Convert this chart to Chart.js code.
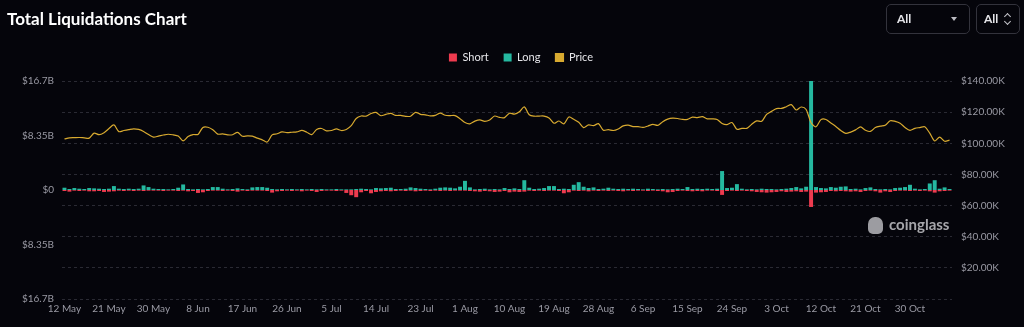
<!DOCTYPE html>
<html>
<head>
<meta charset="utf-8">
<title>Total Liquidations Chart</title>
<script src="https://cdn.jsdelivr.net/npm/chart.js@4.4.1/dist/chart.umd.min.js"></script>
<style>
    html, body { margin: 0; padding: 0; background: #05050b; width: 1024px; height: 327px; overflow: hidden; font-family: Lato, "Liberation Sans", sans-serif; }
    #wrap { position: relative; width: 1024px; height: 327px; }
    #chart { position: absolute; left: 0; top: 0; }
    .title { position: absolute; left: 7px; top: 8px; color: #ffffff; font-weight: bold; font-size: 17px; }
    .sel { position: absolute; top: 4px; height: 30px; border: 1px solid #33333c; border-radius: 5px; box-sizing: border-box; color: #e4e4e8; font-size: 12px; font-weight: bold; line-height: 28px; }
    .sel1 { left: 886px; width: 84px; padding-left: 10px; }
    .sel1 .caret { position: absolute; right: 12px; top: 12px; width: 0; height: 0; border-left: 3px solid transparent; border-right: 3px solid transparent; border-top: 4px solid #bbbbc2; }
    .sel2 { left: 976px; width: 44px; padding-left: 7px; }
    .sel2 .arr { position: absolute; right: 8px; top: 8px; width: 6px; height: 12px; }
    .sel2 .arr i { position: absolute; left: 0; width: 4px; height: 4px; border-left: 1.3px solid #c4c4ca; border-top: 1.3px solid #c4c4ca; }
    .sel2 .arr i.up { top: 1px; transform: rotate(45deg); }
    .sel2 .arr i.dn { top: 6px; transform: rotate(225deg); }
    .mark { position: absolute; left: 868px; top: 215px; color: #c4c4c8; font-size: 15px; font-weight: bold; opacity: 0.85; }
    .mark .logo { display: inline-block; width: 15px; height: 17px; border-radius: 7px 7px 5px 5px; background: #b8b8bc; vertical-align: -4px; margin-right: 6px; }
</style>
</head>
<body>
<div id="wrap">
    <canvas id="chart" width="1024" height="327"></canvas>
    <div class="title">Total Liquidations Chart</div>
    <div class="sel sel1">All<span class="caret"></span></div>
    <div class="sel sel2">All<span class="arr"><i class="up"></i><i class="dn"></i></span></div>
    <div class="mark"><span class="logo"></span>coinglass</div>
</div>
<script>
var startDate = new Date(2025, 4, 12);
var dayCount = 180;
var monthNames = ['Jan', 'Feb', 'Mar', 'Apr', 'May', 'Jun', 'Jul', 'Aug', 'Sep', 'Oct', 'Nov', 'Dec'];

// long liquidations, $B
var longVals = [
    0.35, 0.15, 0.3, 0.2, 0.15, 0.3, 0.25, 0.2, 0.15, 0.2,
    0.6, 0.2, 0.15, 0.2, 0.15, 0.2, 0.7, 0.45, 0.2, 0.15,
    0.15, 0.1, 0.15, 0.35, 0.85, 0.15, 0.1, 0.15, 0.1, 0.15,
    0.45, 0.45, 0.2, 0.1, 0.15, 0.25, 0.15, 0.1, 0.4, 0.45,
    0.45, 0.35, 0.15, 0.1, 0.15, 0.1, 0.15, 0.1, 0.15, 0.1,
    0.15, 0.1, 0.15, 0.1, 0.1, 0.15, 0.1, 0.1, 0.1, 0.15,
    0.2, 0.15, 0.1, 0.3, 0.25, 0.3, 0.35, 0.15, 0.15, 0.2,
    0.4, 0.3, 0.2, 0.15, 0.1, 0.2, 0.35, 0.4, 0.35, 0.25,
    0.5, 1.4, 0.4, 0.1, 0.15, 0.2, 0.1, 0.15, 0.1, 0.3,
    0.15, 0.25, 0.15, 1.5, 0.35, 0.15, 0.2, 0.3, 0.6, 0.6,
    0.15, 0.2, 0.15, 0.8, 1.2, 0.5, 0.3, 0.4, 0.15, 0.2,
    0.35, 0.2, 0.15, 0.2, 0.15, 0.2, 0.15, 0.1, 0.2, 0.15,
    0.1, 0.15, 0.1, 0.15, 0.2, 0.15, 0.45, 0.15, 0.2, 0.15,
    0.2, 0.15, 0.2, 2.9, 0.3, 0.35, 0.9, 0.2, 0.1, 0.15,
    0.1, 0.2, 0.15, 0.15, 0.1, 0.15, 0.2, 0.3, 0.45, 0.25,
    0.5, 16.7, 0.45, 0.3, 0.25, 0.45, 0.35, 0.5, 0.55, 0.15,
    0.2, 0.1, 0.3, 0.4, 0.15, 0.1, 0.15, 0.1, 0.3, 0.35,
    0.45, 0.8, 0.2, 0.1, 0.15, 1.0, 1.5, 0.2, 0.4, 0.15
];

// short liquidations, $B (drawn below zero)
var shortVals = [
    -0.15, -0.25, -0.1, -0.15, -0.1, -0.2, -0.2, -0.15, -0.3, -0.25,
    -0.2, -0.1, -0.15, -0.1, -0.15, -0.1, -0.15, -0.1, -0.1, -0.1,
    -0.15, -0.1, -0.1, -0.15, -0.1, -0.2, -0.15, -0.45, -0.35, -0.15,
    -0.1, -0.1, -0.15, -0.1, -0.15, -0.25, -0.1, -0.15, -0.1, -0.1,
    -0.1, -0.15, -0.4, -0.2, -0.15, -0.1, -0.15, -0.1, -0.2, -0.1,
    -0.15, -0.3, -0.15, -0.1, -0.1, -0.15, -0.1, -0.45, -0.8, -1.1,
    -0.35, -0.15, -0.5, -0.3, -0.2, -0.15, -0.2, -0.15, -0.1, -0.15,
    -0.1, -0.2, -0.15, -0.1, -0.15, -0.1, -0.15, -0.1, -0.15, -0.1,
    -0.1, -0.1, -0.15, -0.2, -0.25, -0.15, -0.2, -0.3, -0.25, -0.15,
    -0.35, -0.25, -0.3, -0.25, -0.1, -0.15, -0.1, -0.15, -0.1, -0.1,
    -0.15, -0.5, -0.35, -0.1, -0.15, -0.1, -0.2, -0.1, -0.15, -0.1,
    -0.15, -0.1, -0.15, -0.2, -0.1, -0.15, -0.1, -0.1, -0.15, -0.1,
    -0.15, -0.2, -0.35, -0.3, -0.15, -0.1, -0.15, -0.2, -0.15, -0.2,
    -0.1, -0.1, -0.15, -0.75, -0.15, -0.1, -0.15, -0.1, -0.15, -0.2,
    -0.3, -0.35, -0.4, -0.35, -0.3, -0.2, -0.3, -0.25, -0.2, -0.3,
    -0.25, -2.6, -0.4, -0.35, -0.3, -0.15, -0.2, -0.15, -0.2, -0.25,
    -0.2, -0.3, -0.15, -0.1, -0.2, -0.4, -0.2, -0.3, -0.15, -0.1,
    -0.1, -0.15, -0.1, -0.15, -0.1, -0.2, -0.4, -0.2, -0.15, -0.1
];

// BTC price, $
var priceVals = [
    102800, 103500, 103600, 103700, 103500, 103300, 106500, 105500, 106800, 109500,
    111800, 107500, 108200, 108800, 109300, 108900, 107600, 105600, 104000, 104600,
    105300, 105800, 105400, 104700, 101600, 104300, 105600, 105700, 110200, 110300,
    108700, 105900, 106000, 105400, 105500, 107000, 104500, 104800, 104600, 103300,
    102200, 100800, 105400, 106100, 107300, 106900, 107100, 107300, 108300, 107100,
    105600, 108800, 109500, 108000, 108200, 109200, 108200, 108900, 111300, 115900,
    117500, 117400, 119100, 119800, 117700, 118600, 119200, 117900, 117900, 117300,
    117400, 119900, 118600, 118300, 117600, 117900, 119400, 118000, 117800, 117800,
    115800, 113300, 112500, 114200, 115000, 114100, 115000, 117500, 116600, 116500,
    119300, 118700, 120200, 123400, 118300, 117400, 117500, 117500, 116300, 112900,
    114300, 112500, 116900, 115400, 113500, 110100, 111800, 111300, 112600, 108400,
    108800, 108200, 109200, 111200, 111700, 110700, 110700, 110200, 111100, 112100,
    111500, 113900, 115500, 116100, 115900, 115300, 115400, 116800, 116500, 117100,
    115700, 115700, 115300, 112700, 112000, 113300, 109000, 109600, 109600, 112200,
    114400, 114100, 118600, 120500, 122300, 122400, 123500, 124800, 121400, 123300,
    121700, 113200, 110600, 115200, 115300, 113000, 110800, 108200, 106400, 107200,
    108600, 110500, 108400, 107600, 110100, 111000, 111600, 114500, 114100, 112900,
    110100, 108300, 109600, 110100, 110600, 106500, 101500, 103900, 101300, 102000
];

var leftTicks = [-16.7, -8.35, 0, 8.35, 16.7];
var rightTicks = [0, 20000, 40000, 60000, 80000, 100000, 120000, 140000];

var labels = [];
for (var i = 0; i < dayCount; i++) {
    var d = new Date(startDate.getFullYear(), startDate.getMonth(), startDate.getDate() + i);
    labels.push(d.getDate() + ' ' + monthNames[d.getMonth()]);
}

var tickColor = '#9a9aa4';
var tickFont = { family: 'Lato, "Liberation Sans", sans-serif', size: 10 };

// push the plot down a bit under the legend, and nudge the legend right
var legendSpacer = {
    id: 'legendSpacer',
    beforeInit(chart) {
        var fit = chart.legend.fit;
        chart.legend.fit = function () {
            fit.bind(chart.legend)();
            this.height += 8;
        };
    },
    afterLayout(chart) {
        chart.legend.left += 9;
        chart.legend.right += 9;
    }
};

var ctx = document.getElementById('chart').getContext('2d');
var liqChart = new Chart(ctx, {
    type: 'bar',
    data: {
        labels: labels,
        datasets: [
            {
                type: 'line',
                label: 'Price',
                data: priceVals,
                yAxisID: 'y1',
                borderColor: '#d8aa30',
                backgroundColor: '#d8aa30',
                borderWidth: 1.2,
                pointRadius: 0,
                tension: 0.3,
                fill: false,
                order: 0
            },
            {
                label: 'Short',
                data: shortVals,
                yAxisID: 'y',
                backgroundColor: '#ee3b4f',
                categoryPercentage: 0.8,
                barPercentage: 1,
                order: 1
            },
            {
                label: 'Long',
                data: longVals,
                yAxisID: 'y',
                backgroundColor: '#25b9a0',
                categoryPercentage: 0.8,
                barPercentage: 1,
                order: 1
            }
        ]
    },
    options: {
        responsive: false,
        animation: false,
        layout: { padding: { top: 37, bottom: 8, left: 0, right: 0 } },
        plugins: {
            legend: {
                display: true,
                position: 'top',
                labels: {
                    color: '#e6e6ea',
                    font: { family: 'Lato, "Liberation Sans", sans-serif', size: 11 },
                    usePointStyle: true,
                    pointStyle: 'rect',
                    boxWidth: 8,
                    boxHeight: 8,
                    padding: 15,
                    sort: function (a, b) {
                        var order = ['Short', 'Long', 'Price'];
                        return order.indexOf(a.text) - order.indexOf(b.text);
                    }
                }
            },
            tooltip: { enabled: false }
        },
        scales: {
            x: {
                stacked: true,
                offset: true,
                grid: { display: false, drawTicks: false, tickLength: 0 },
                border: { display: false },
                ticks: {
                    color: tickColor,
                    font: tickFont,
                    autoSkip: false,
                    maxRotation: 0,
                    minRotation: 0,
                    padding: 4,
                    callback: function (val, i) {
                        return i % 9 === 0 ? labels[i] : '';
                    }
                }
            },
            y: {
                position: 'left',
                stacked: true,
                min: -16.7,
                max: 16.7,
                grid: { display: false, drawTicks: false, tickLength: 0 },
                border: { display: false },
                afterBuildTicks: function (scale) {
                    scale.ticks = leftTicks.map(function (v) { return { value: v }; });
                },
                afterFit: function (scale) { scale.width = 62; },
                ticks: {
                    color: tickColor,
                    font: tickFont,
                    padding: 8,
                    callback: function (v) {
                        return v === 0 ? '$0' : '$' + Math.abs(v) + 'B';
                    }
                }
            },
            y1: {
                position: 'right',
                min: 0,
                max: 140000,
                grid: { color: '#2a2a33', drawTicks: false, tickLength: 0 },
                border: { display: false, dash: [3, 3] },
                afterBuildTicks: function (scale) {
                    scale.ticks = rightTicks.map(function (v) { return { value: v }; });
                },
                afterFit: function (scale) { scale.width = 72; },
                ticks: {
                    color: tickColor,
                    font: tickFont,
                    padding: 9,
                    callback: function (v) {
                        return v === 0 ? '' : '$' + (v / 1000).toFixed(2) + 'K';
                    }
                }
            }
        }
    },
    plugins: [legendSpacer]
});
</script>
</body>
</html>
